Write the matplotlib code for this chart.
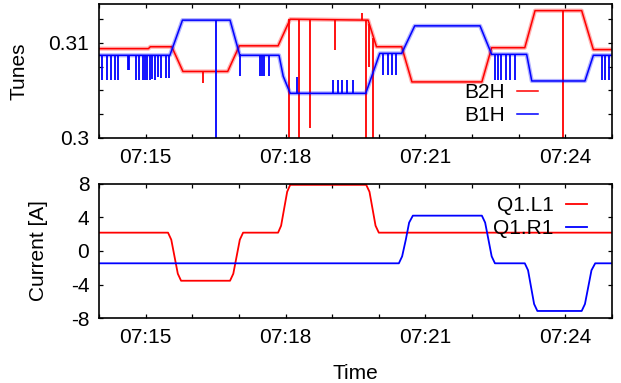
import matplotlib
matplotlib.use("Agg")
import matplotlib.pyplot as plt
from matplotlib.ticker import MultipleLocator, FuncFormatter

plt.rcParams['font.family'] = ['Liberation Sans', 'DejaVu Sans']
plt.rcParams['font.size'] = 15
plt.rcParams['axes.unicode_minus'] = False

# time in minutes after 07:00
# tune levels (breakpoints)
b2hTime = [14.0, 15.06, 15.10, 15.56, 15.80, 16.76, 17.01, 17.84, 18.10,
           19.77, 19.95, 20.49, 20.71, 22.21, 22.42, 23.13, 23.35, 24.35, 24.60, 25.0]
b2hTune = [0.3094, 0.3094, 0.3096, 0.3096, 0.3070, 0.3070, 0.3097, 0.3097, 0.3125,
           0.3124, 0.3096, 0.3096, 0.3059, 0.3059, 0.3095, 0.3095, 0.3134, 0.3134, 0.3093, 0.3093]

b1hTime = [14.0, 15.52, 15.79, 16.81, 17.02, 17.86, 17.95, 18.10, 19.72, 20.02,
           20.49, 20.77, 22.17, 22.42, 23.17, 23.28, 24.42, 24.60, 25.0]
b1hTune = [0.3087, 0.3087, 0.3124, 0.3124, 0.3087, 0.3087, 0.3065, 0.3047, 0.3047, 0.3089,
           0.3089, 0.3118, 0.3118, 0.3088, 0.3088, 0.3060, 0.3060, 0.3087, 0.3087]

# spikes in the tune signal: time, low end, high end
b2hSpikeT = [16.24, 18.08, 18.29, 18.53, 19.05, 19.65, 19.73, 19.80, 19.88, 23.96]
b2hSpikeLo = [0.3058, 0.3000, 0.3000, 0.3010, 0.3093, 0.3124, 0.3000, 0.3075, 0.3000, 0.3000]
b2hSpikeHi = [0.3070, 0.3125, 0.3125, 0.3125, 0.3125, 0.3131, 0.3124, 0.3120, 0.3105, 0.3135]

b1hSpikeT = [14.06, 14.17, 14.26, 14.34, 14.40, 14.62, 14.65, 14.79, 14.86, 14.94,
             14.99, 15.02, 15.09, 15.14, 15.20, 15.27, 15.34, 15.43, 15.50,
             16.50, 17.02, 17.45, 17.50, 17.54, 17.65,
             18.25, 19.02, 19.13, 19.20, 19.31, 19.45,
             20.10, 20.20, 20.29, 20.36,
             22.49, 22.56, 22.63, 22.72, 22.81, 22.92,
             24.78, 24.85, 24.94]
b1hSpikeLo = [0.3061, 0.3061, 0.3061, 0.3061, 0.3061, 0.3072, 0.3072, 0.3061, 0.3061, 0.3061,
              0.3061, 0.3061, 0.3061, 0.3062, 0.3061, 0.3064, 0.3063, 0.3063, 0.3063,
              0.3000, 0.3065, 0.3065, 0.3065, 0.3065, 0.3065,
              0.3047, 0.3047, 0.3047, 0.3047, 0.3047, 0.3047,
              0.3066, 0.3066, 0.3066, 0.3066,
              0.3061, 0.3061, 0.3061, 0.3061, 0.3061, 0.3061,
              0.3061, 0.3061, 0.3061]
b1hSpikeHi = [0.3087, 0.3087, 0.3087, 0.3087, 0.3087, 0.3087, 0.3087, 0.3087, 0.3087, 0.3087,
              0.3087, 0.3087, 0.3087, 0.3087, 0.3087, 0.3087, 0.3087, 0.3087, 0.3087,
              0.3124, 0.3088, 0.3087, 0.3087, 0.3087, 0.3087,
              0.3064, 0.3061, 0.3061, 0.3061, 0.3061, 0.3061,
              0.3089, 0.3089, 0.3089, 0.3089,
              0.3087, 0.3087, 0.3087, 0.3087, 0.3087, 0.3087,
              0.3087, 0.3087, 0.3087]

# magnet currents
l1Time = [14.0, 15.48, 15.55, 15.62, 15.69, 15.76, 16.81, 16.88, 16.95, 17.02, 17.09,
          17.84, 17.905, 17.97, 18.035, 18.10, 19.73, 19.80, 19.865, 19.93, 20.00, 25.0]
l1Curr = [2.19, 2.19, 1.35, -0.68, -2.71, -3.55, -3.55, -2.71, -0.68, 1.35, 2.19,
          2.19, 3.02, 5.05, 7.07, 7.9, 7.9, 7.07, 5.05, 3.02, 2.19, 2.19]

r1Time = [14.0, 20.43, 20.50, 20.58, 20.65, 20.73, 22.21, 22.28, 22.35, 22.42, 22.49,
          23.13, 23.20, 23.265, 23.33, 23.40, 24.35, 24.42, 24.49, 24.56, 24.64, 25.0]
r1Curr = [-1.47, -1.47, -0.64, 1.38, 3.39, 4.22, 4.22, 3.39, 1.38, -0.64, -1.47,
          -1.47, -2.30, -4.32, -6.33, -7.16, -7.16, -6.33, -4.32, -2.30, -1.47, -1.47]

RED = "#ff0000"
BLUE = "#0000ff"


def timeLabel(x, pos):
    return "07:%02d" % round(x)


def styleAxis(ax):
    ax.set_xlim(14, 25)
    ax.xaxis.set_major_locator(MultipleLocator(3))
    ax.xaxis.set_minor_locator(MultipleLocator(1))
    ax.xaxis.set_major_formatter(FuncFormatter(timeLabel))
    ax.tick_params(which="both", direction="in", top=True, right=True,
                   length=3.2, width=0.9, pad=7)
    for s in ax.spines.values():
        s.set_linewidth(1.2)


fig = plt.figure(figsize=(6.21, 3.83), dpi=100)
axTop = fig.add_axes([0.1594, 0.6397, 0.8261, 0.3499])
axBot = fig.add_axes([0.1594, 0.1697, 0.8261, 0.3499])

# top: tunes
axTop.plot(b2hTime, b2hTune, color=RED, lw=3, alpha=0.3)
lineB2H, = axTop.plot(b2hTime, b2hTune, color=RED, lw=1.1, label="B2H")
axTop.vlines(b2hSpikeT, b2hSpikeLo, b2hSpikeHi, color=RED, lw=1.3)
axTop.plot(b1hTime, b1hTune, color=BLUE, lw=3, alpha=0.3)
lineB1H, = axTop.plot(b1hTime, b1hTune, color=BLUE, lw=1.1, label="B1H")
axTop.vlines(b1hSpikeT, b1hSpikeLo, b1hSpikeHi, color=BLUE, lw=1.3)

styleAxis(axTop)
axTop.set_ylim(0.3, 0.3141)
axTop.yaxis.set_major_locator(MultipleLocator(0.01))
axTop.yaxis.set_minor_locator(MultipleLocator(0.0025))
axTop.yaxis.set_major_formatter(FuncFormatter(lambda v, p: "%g" % round(v, 4)))
axTop.set_ylabel("Tunes")
axTop.yaxis.set_label_coords(-0.138, 0.5)
axTop.legend(handles=[lineB2H, lineB1H], loc="upper right",
             bbox_to_anchor=(0.856, 0.41), frameon=False, markerfirst=False,
             handlelength=1.0, handletextpad=0.6, borderpad=0, borderaxespad=0,
             labelspacing=0.2)

# bottom: currents
lineL1, = axBot.plot(l1Time, l1Curr, color=RED, lw=1.3, label="Q1.L1")
lineR1, = axBot.plot(r1Time, r1Curr, color=BLUE, lw=1.3, label="Q1.R1")
styleAxis(axBot)
axBot.set_ylim(-8, 8)
axBot.yaxis.set_major_locator(MultipleLocator(4))
axBot.set_ylabel("Current [A]")
axBot.yaxis.set_label_coords(-0.0994, 0.5)
axBot.set_xlabel("Time", labelpad=12.5)
axBot.legend(handles=[lineL1, lineR1], loc="upper right",
             bbox_to_anchor=(0.951, 0.91), frameon=False, markerfirst=False,
             handlelength=1.0, handletextpad=0.6, borderpad=0, borderaxespad=0,
             labelspacing=0.2)

fig.savefig("out.png", dpi=100)
